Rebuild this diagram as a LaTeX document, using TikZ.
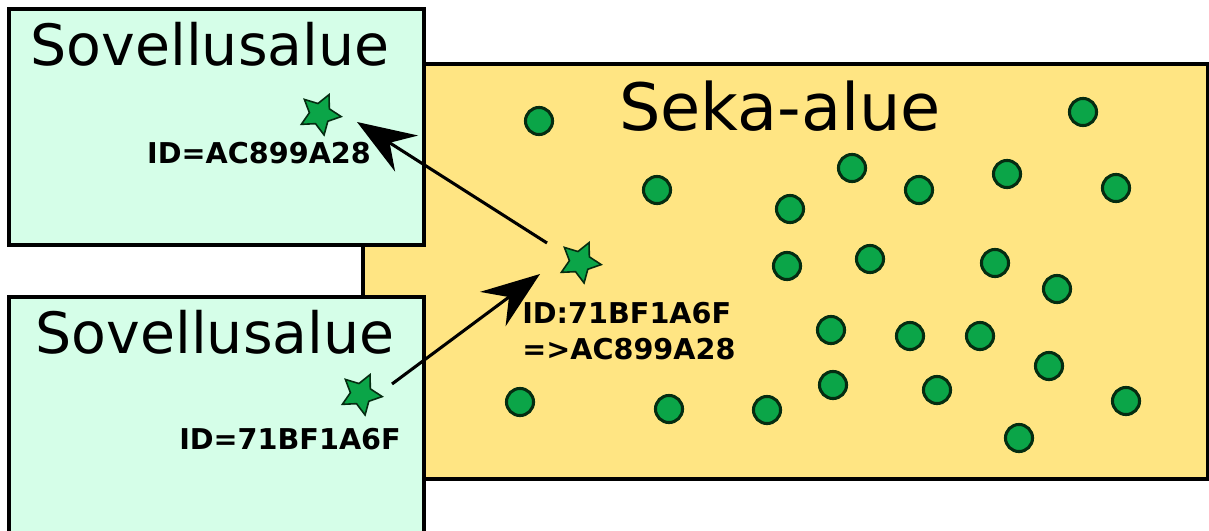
\documentclass[tikz,border=0pt]{standalone}
\usepackage{fontspec}
\setmainfont{DejaVu Sans}
\usetikzlibrary{shapes.geometric,arrows.meta}
\definecolor{mint}{HTML}{D5FEE8}
\definecolor{sand}{HTML}{FFE583}
\definecolor{leaf}{HTML}{0BA548}
\definecolor{leafline}{HTML}{052C11}
\tikzset{
  zone/.style={draw=black, line width=2.6pt, inner sep=0pt, outer sep=0pt, anchor=north west},
  appzone/.style={zone, fill=mint, minimum width=311.25pt},
  title/.style={font=\fontsize{42.7}{50}\selectfont, inner sep=0pt, anchor=base},
  idlabel/.style={font=\bfseries\fontsize{21.5}{27}\selectfont, inner sep=0pt},
  token/.style={star, star points=5, star point ratio=2.0, minimum size=32pt,
    inner sep=0pt, fill=leaf, draw=leafline, line width=1.2pt, shape border rotate=-25},
  dot/.style={circle, minimum size=20.3pt, inner sep=0pt, fill=leaf, draw=leafline, line width=2.3pt},
  link/.style={line width=2.3pt, -{Stealth[length=44pt, width=32pt, inset=15pt]}},
}
\begin{document}
\begin{tikzpicture}[x=0.75pt, y=-0.75pt]
  \clip (0,0) rectangle (1209,531);
  \fill[white] (0,0) rectangle (1209,531);

  % shared area
  \node[zone, fill=sand, minimum width=633.75pt, minimum height=311.25pt] (mix) at (363,64) {};
  \node[title, font=\fontsize{49}{56}\selectfont] (mixtitle) at (780,131) {Seka-alue};

  % application areas
  \node[appzone, minimum height=177pt] (app1) at (9,9) {};
  \node[appzone, minimum height=200pt] (app2) at (9,297) {};
  \node[title] (app1title) at (210,66) {Sovellusalue};
  \node[title] (app2title) at (215,353) {Sovellusalue};

  % particles in the shared area
  \foreach \x/\y [count=\i] in {539/121, 1083/112, 657/190, 852/168, 919/190, 1007/174,
      1116/188, 790/209, 787/266, 870/259, 995/263, 1057/289, 831/330, 910/336,
      980/336, 1049/366, 520/402, 669/409, 767/410, 833/385, 937/390, 1126/401, 1019/438}
    \node[dot] (p\i) at (\x,\y) {};

  % identified objects
  \node[token] (s1) at (320,114) {};
  \node[token] (s2) at (580,262) {};
  \node[token] (s3) at (361,394) {};

  \node[idlabel, anchor=base] (id1) at (259,163) {ID=AC899A28};
  \node[idlabel, anchor=base] (id3) at (290,449) {ID=71BF1A6F};
  \node[idlabel, anchor=north west, align=left] (id2) at (522,302) {ID:71BF1A6F\\=>AC899A28};

  % transfers
  \coordinate (a1from) at (547,243);
  \coordinate (a1to) at (357,122);
  \coordinate (a2from) at (392,384);
  \coordinate (a2to) at (540,274);
  \draw[link] (a1from) -- (a1to);
  \draw[link] (a2from) -- (a2to);
\end{tikzpicture}
\end{document}
